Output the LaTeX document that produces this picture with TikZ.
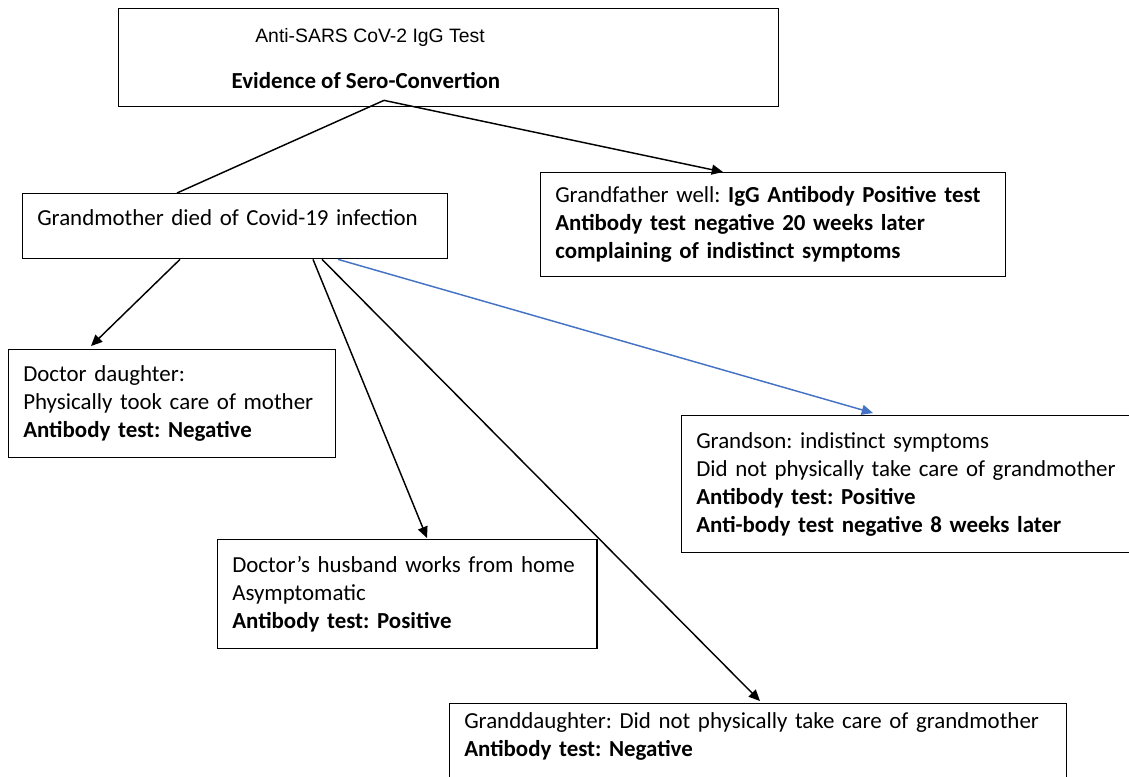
\documentclass[tikz,border=0pt]{standalone}
\usepackage{fontspec}
\setmainfont{Carlito}
\newfontfamily\arialfont{Liberation Sans}
\usetikzlibrary{arrows.meta,positioning}
\frenchspacing
\newlength\pxu \setlength\pxu{0.48pt}
\definecolor{linkblue}{RGB}{68,114,196}
\tikzset{
  box/.style={draw,line width=0.65pt,anchor=north west,align=left,inner xsep=7pt,inner ysep=3pt,font=\fontsize{11}{13.4}\selectfont},
  conn/.style={line width=0.7pt,-{Triangle[length=5.4pt,width=4.8pt]}},
}
\begin{document}
\begin{tikzpicture}[x=0.48pt,y=-0.48pt]
\useasboundingbox (0,0) rectangle (1129,776);
\node[box,minimum width=660\pxu,minimum height=98\pxu] (test) at (118,8) {};
\node[anchor=base,font=\arialfont\fontsize{9.3}{11}\selectfont] (title) at (370,42) {Anti-SARS CoV-2 IgG Test};
\node[anchor=base,font=\fontsize{11}{13.4}\selectfont\bfseries] (sero) at (366,88) {Evidence of Sero-Convertion};
\node[box,text width=190pt,minimum height=65\pxu] (gmother) at (22,193) {Grandmother died of Covid-19 infection\\[-5pt]\mbox{}};
\node[box,text width=209pt,minimum height=104\pxu] (gfather) at (540,172) {Grandfather well: \textbf{IgG Antibody Positive test}\\ \textbf{Antibody test negative 20 weeks later}\\ \textbf{complaining of indistinct symptoms}};
\node[box,text width=143pt,minimum height=108\pxu] (daughter) at (8,349) {Doctor daughter:\\ Physically took care of mother\\ \textbf{Antibody test: Negative}};
\node[box,text width=168pt,minimum height=109\pxu] (husband) at (217,539) {Doctor’s husband works from home\\ Asymptomatic\\ \textbf{Antibody test: Positive}};
\node[box,text width=211pt,minimum height=137\pxu] (grandson) at (681,415) {Grandson: indistinct symptoms\\ Did not physically take care of grandmother\\ \textbf{Antibody test: Positive}\\ \textbf{Anti-body test negative 8 weeks later}};
\node[box,text width=282pt,minimum height=100\pxu] (gdaughter) at (449,703) {Granddaughter: Did not physically take care of grandmother\\ \textbf{Antibody test: Negative}\\[4.8pt]\mbox{}};
\coordinate (apex) at ([xshift=266\pxu,yshift=7\pxu]test.south west);
\draw[line width=0.7pt] (apex) -- ([xshift=155\pxu]gmother.north west);
\draw[conn] (apex) -- ([xshift=183\pxu]gfather.north west);
\draw[conn] ([xshift=158\pxu]gmother.south west) -- ([xshift=83\pxu,yshift=3\pxu]daughter.north west);
\draw[conn] ([xshift=291\pxu]gmother.south west) -- ([xshift=210\pxu,yshift=1\pxu]husband.north west);
\draw[conn] ([xshift=300\pxu]gmother.south west) -- ([xshift=311\pxu,yshift=2\pxu]gdaughter.north west);
\draw[conn,linkblue] ([xshift=316\pxu]gmother.south west) -- ([xshift=192\pxu,yshift=2\pxu]grandson.north west);
\end{tikzpicture}
\end{document}
